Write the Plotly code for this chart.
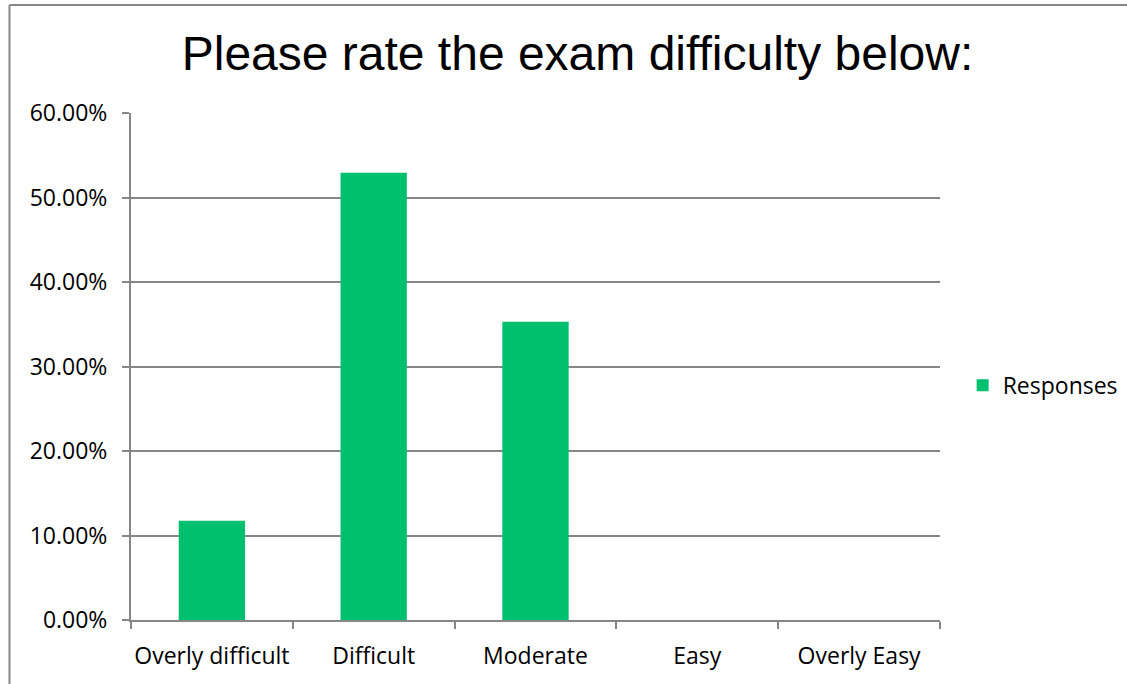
import plotly.graph_objects as go

# データ
categories = ['Overly difficult', 'Difficult', 'Moderate', 'Easy', 'Overly Easy']
responses  = [0.1176, 0.5294, 0.3529, 0.0, 0.0]
y_ticks    = [0.0, 0.1, 0.2, 0.3, 0.4, 0.5, 0.6]
series_name = 'Responses'

bar_color  = 'rgb(0,191,111)'
line_color = 'rgb(134,134,134)'
text_color = 'rgb(0,0,0)'
label_font = '"Open Sans", Lato, sans-serif'

fig = go.Figure()
fig.add_trace(go.Bar(
    x            = categories,
    y            = responses,
    name         = series_name,
    marker       = {'color': bar_color, 'line': {'width': 0}},
    showlegend   = True,
))

fig.update_layout(
    width         = 1127,
    height        = 684,
    margin        = {'l': 131, 'r': 187, 't': 113, 'b': 64},
    margin_autoexpand = False,
    plot_bgcolor  = 'white',
    paper_bgcolor = 'white',
    bargap        = 0.59,
    font          = {'family': label_font, 'size': 23, 'color': text_color},
    title = {
        'text':    'Please rate the exam difficulty below:',
        'font':    {'family': '"Liberation Sans", Arial, sans-serif', 'size': 48, 'color': text_color},
        'x':       0.5124,
        'xref':    'container',
        'xanchor': 'center',
        'y':       0.9225,
        'yref':    'container',
        'yanchor': 'middle',
    },
    legend = {
        'x':       1.028,
        'y':       0.463,
        'xanchor': 'left',
        'yanchor': 'middle',
        'font':    {'family': label_font, 'size': 23, 'color': text_color},
        'bgcolor': 'rgba(0,0,0,0)',
    },
)

fig.update_yaxes(
    range      = [0, 0.6],
    tickvals   = y_ticks,
    tickformat = '.2%',
    showgrid   = True,
    gridcolor  = line_color,
    gridwidth  = 2,
    showline   = True,
    linecolor  = line_color,
    linewidth  = 2,
    ticks      = 'outside',
    ticklen    = 7,
    tickwidth  = 2,
    tickcolor  = line_color,
    zeroline   = False,
    automargin = False,
    ticklabelstandoff = 10,
)
fig.update_xaxes(
    showline   = True,
    linecolor  = line_color,
    linewidth  = 2,
    ticks      = 'outside',
    tickson    = 'boundaries',
    ticklen    = 7,
    tickwidth  = 2,
    tickcolor  = line_color,
    tickangle  = 0,
    automargin = False,
    ticklabelstandoff = 14,
)

# 外枠 (左と上のみ見える)
fig.add_shape(type='line', xref='paper', yref='paper',
              x0=-0.1502, x1=-0.1502, y0=-0.2, y1=1.2130,
              line={'color': line_color, 'width': 2})
fig.add_shape(type='line', xref='paper', yref='paper',
              x0=-0.1502, x1=1.25, y0=1.2130, y1=1.2130,
              line={'color': line_color, 'width': 2})

# bodyの既定余白(8px)を消す
fig.write_html('out.html',
               config={'displayModeBar': False},
               post_script="document.body.style.margin='0px';")
